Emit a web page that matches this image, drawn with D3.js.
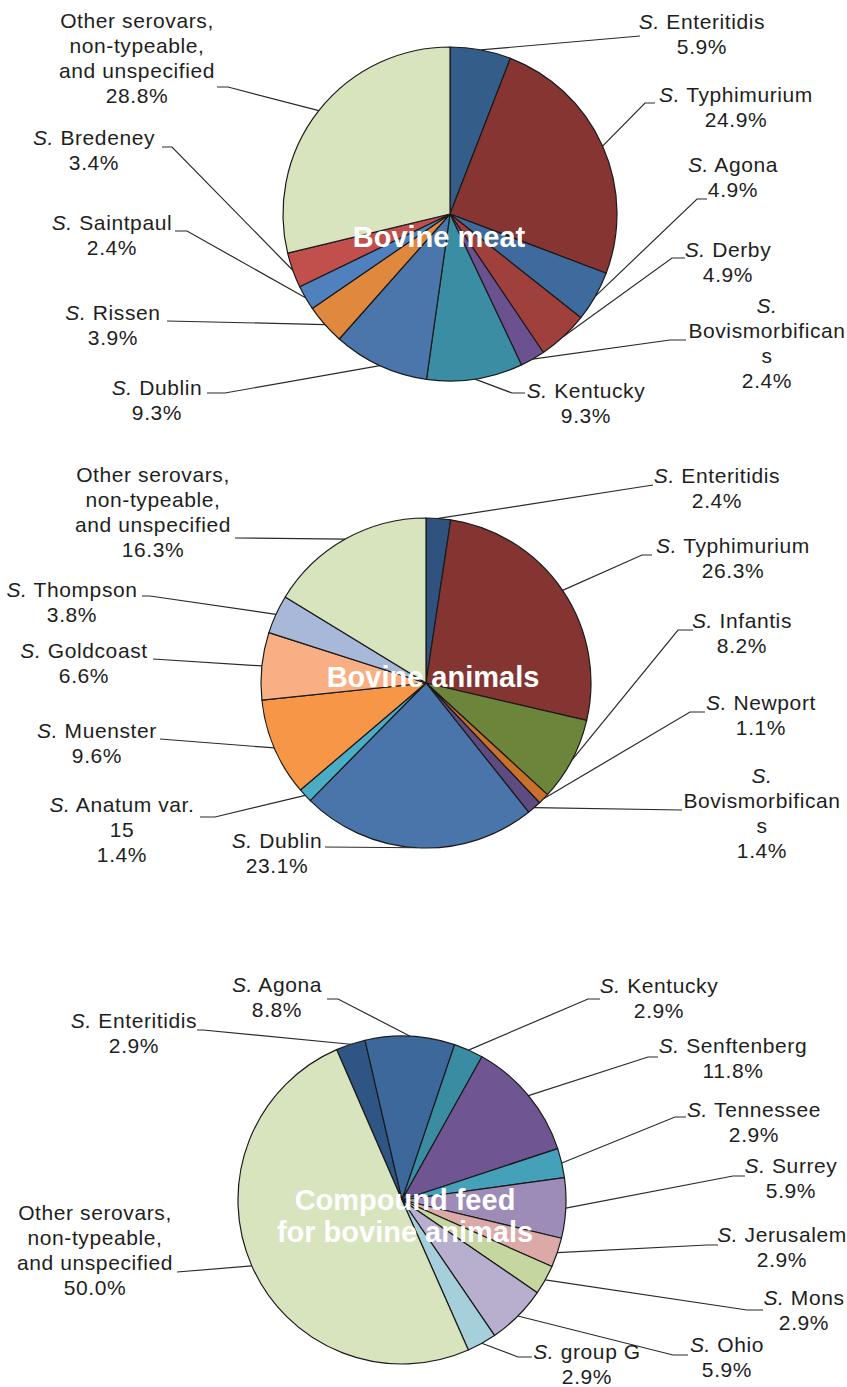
<!DOCTYPE html>
<html>
<head>
<meta charset="utf-8">
<script src="https://cdn.jsdelivr.net/npm/d3@7"></script>
<style>
  body { margin: 0; background: #fff; }
  svg { display: block; }
  .lbl { font-family: "Liberation Sans", Arial, sans-serif; font-size: 21px; letter-spacing: 0.6px; fill: #1e1e1e; }
  .ttl { font-family: "Liberation Sans", Arial, sans-serif; font-size: 29px; font-weight: bold; fill: #fff; }
</style>
</head>
<body>
<div id="chart"></div>
<script>
// --- data ---
var meatNames = ["S. Enteritidis", "S. Typhimurium", "S. Agona", "S. Derby", "S. Bovismorbificans",
    "S. Kentucky", "S. Dublin", "S. Rissen", "S. Saintpaul", "S. Bredeney",
    "Other serovars, non-typeable, and unspecified"];
var meatValues = [5.9, 24.9, 4.9, 4.9, 2.4, 9.3, 9.3, 3.9, 2.4, 3.4, 28.8];

var animalNames = ["S. Enteritidis", "S. Typhimurium", "S. Infantis", "S. Newport", "S. Bovismorbificans",
    "S. Dublin", "S. Anatum var. 15", "S. Muenster", "S. Goldcoast", "S. Thompson",
    "Other serovars, non-typeable, and unspecified"];
var animalValues = [2.4, 26.3, 8.2, 1.1, 1.4, 23.1, 1.4, 9.6, 6.6, 3.8, 16.3];

var feedNames = ["S. Enteritidis", "S. Agona", "S. Kentucky", "S. Senftenberg", "S. Tennessee",
    "S. Surrey", "S. Jerusalem", "S. Mons", "S. Ohio", "S. group G",
    "Other serovars, non-typeable, and unspecified"];
var feedValues = [2.9, 8.8, 2.9, 11.8, 2.9, 5.9, 2.9, 2.9, 5.9, 2.9, 50.0];

// colours per slice
var meatColors = ["#355d8a", "#873532", "#3f6a9e", "#a0403c", "#6c5191", "#3a8da2",
    "#4a76ac", "#e0883e", "#4e81be", "#c14f4c", "#d7e4bd"];
var animalColors = ["#2f527e", "#843531", "#6d853b", "#c8702c", "#5e4b80", "#4975ab",
    "#4bacc6", "#f79646", "#f8af83", "#a7b8d8", "#d7e4bd"];
var feedColors = ["#2f5585", "#3d689b", "#3a8ca3", "#705593", "#45a1b9", "#9d8bb8",
    "#dba9a8", "#c5d6a0", "#b8aecd", "#a6cfdc", "#d7e4bd"];

// how long labels wrap
var wraps = {
    "S. Bovismorbificans": ["S.", "Bovismorbifican", "s"],
    "S. Anatum var. 15": ["S. Anatum var.", "15"],
    "Other serovars, non-typeable, and unspecified": ["Other serovars,", "non-typeable,", "and unspecified"]
};

// label layout: [text centre x, first baseline y, leader start x, leader y, elbow x]
var meatLayout = [[702, 29, 640, 36, 640], [736, 102, 655, 103, 645], [733, 172, 707, 199, 697],
    [728, 257, 685, 258, 672], [767, 313, 686, 340, 670], [586, 398, 525, 393, 512],
    [157, 395, 207, 393, 225], [113, 320, 167, 321, 167], [112, 230, 175, 231, 187],
    [94, 145, 162, 147, 172], [137, 28, 217, 87, 228]];
var animalLayout = [[717, 483, 653, 485, 653], [733, 553, 652, 555, 642], [742, 628, 693, 630, 678],
    [761, 710, 705, 712, 690], [762, 783, 682, 810, 682], [277, 848, 325, 847, 325],
    [122, 812, 200, 817, 215], [97, 738, 160, 739, 160], [84, 658, 153, 659, 153],
    [72, 597, 142, 596, 150], [153, 482, 235, 538, 235]];
var feedLayout = [[134, 1028, 197, 1030, 203], [277, 992, 327, 999, 338], [659, 993, 600, 999, 588],
    [733, 1053, 658, 1057, 648], [754, 1117, 686, 1117, 675], [791, 1173, 745, 1176, 733],
    [782, 1242, 718, 1245, 707], [804, 1305, 763, 1310, 747], [727, 1352, 688, 1355, 673],
    [587, 1359, 532, 1357, 518], [95, 1220, 177, 1272, 177]];

var charts = [
    { names: meatNames, values: meatValues, colors: meatColors, layout: meatLayout,
      cx: 450, cy: 214, r: 167, start: 0, title: ["Bovine meat"], tx: 439, ty: 247 },
    { names: animalNames, values: animalValues, colors: animalColors, layout: animalLayout,
      cx: 426, cy: 683, r: 165, start: 0, title: ["Bovine animals"], tx: 433, ty: 687 },
    { names: feedNames, values: feedValues, colors: feedColors, layout: feedLayout,
      cx: 402, cy: 1200, r: 164, start: -23.5, title: ["Compound feed", "for bovine animals"], tx: 405, ty: 1210 }
];

var W = 847, H = 1387, LH = 25;
var fmt = d3.format(".1f");

var svg = d3.select("#chart").append("svg")
    .attr("width", W)
    .attr("height", H);

function drawPie(c) {
    var a0 = c.start * Math.PI / 180;
    var pie = d3.pie().sort(null).startAngle(a0).endAngle(a0 + 2 * Math.PI);
    var arcs = pie(c.values);
    var arc = d3.arc().innerRadius(0).outerRadius(c.r);

    var g = svg.append("g");

    // leader lines (under the pie)
    arcs.forEach(function (d, i) {
        var L = c.layout[i];
        var mid = (d.startAngle + d.endAngle) / 2;
        var px = c.cx + c.r * Math.sin(mid), py = c.cy - c.r * Math.cos(mid);
        g.append("polyline")
            .attr("points", [[L[2], L[3]], [L[4], L[3]], [px, py]].join(" "))
            .attr("fill", "none")
            .attr("stroke", "#2a2a2a")
            .attr("stroke-width", 1.2);
    });

    var pg = g.append("g").attr("transform", "translate(" + c.cx + "," + c.cy + ")");
    pg.selectAll("path")
        .data(arcs)
        .enter()
        .append("path")
        .attr("d", arc)
        .attr("fill", function (d, i) { return c.colors[i]; })
        .attr("stroke", "#1a1a1a")
        .attr("stroke-width", 1.2)
        .attr("stroke-linejoin", "round");

    // labels
    arcs.forEach(function (d, i) {
        var L = c.layout[i];
        var name = c.names[i];
        var lines = (wraps[name] || [name]).concat([fmt(c.values[i]) + "%"]);
        var t = g.append("text")
            .attr("class", "lbl")
            .attr("text-anchor", "middle");
        lines.forEach(function (s, k) {
            var ts = t.append("tspan").attr("x", L[0]).attr("y", L[1] + k * LH);
            if (s.indexOf("S.") === 0) {
                ts.append("tspan").attr("font-style", "italic").text("S.");
                ts.append("tspan").text(s.slice(2));
            } else {
                ts.text(s);
            }
        });
    });

    // title inside pie
    var tt = g.append("text")
        .attr("class", "ttl")
        .attr("text-anchor", "middle");
    c.title.forEach(function (s, k) {
        tt.append("tspan").attr("x", c.tx).attr("y", c.ty + k * 32).text(s);
    });
}

charts.forEach(drawPie);
</script>
</body>
</html>
